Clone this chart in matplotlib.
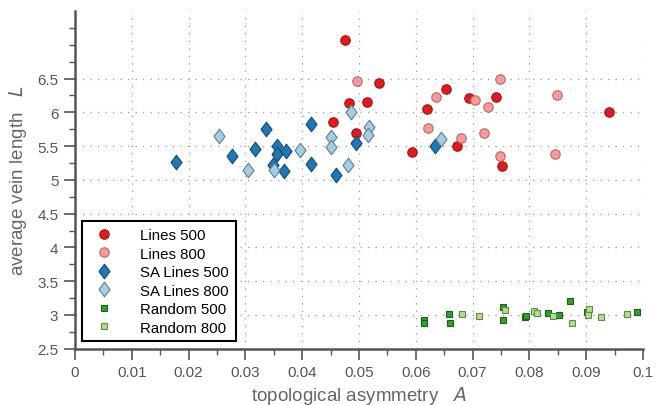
import numpy as np
import matplotlib
matplotlib.use("Agg")
import matplotlib.pyplot as plt
from matplotlib.ticker import MultipleLocator, FixedLocator, FuncFormatter

plt.rcParams['font.family'] = ['Liberation Sans', 'DejaVu Sans']

# topological asymmetry A / average vein length L for each network family
lines500_A = [0.0475, 0.0483, 0.0455, 0.0495, 0.0535, 0.0515, 0.0594, 0.0619, 0.0653,
              0.0694, 0.0742, 0.0673, 0.0752, 0.0941]
lines500_L = [7.07, 6.14, 5.85, 5.69, 6.44, 6.15, 5.41, 6.05, 6.34,
              6.21, 6.23, 5.50, 5.21, 6.01]

lines800_A = [0.0496, 0.0748, 0.0636, 0.0705, 0.0728, 0.0848, 0.0622, 0.0680, 0.0720,
              0.0748, 0.0845]
lines800_L = [6.47, 6.49, 6.23, 6.18, 6.08, 6.25, 5.77, 5.62, 5.69,
              5.35, 5.38]

sa500_A = [0.0178, 0.0277, 0.0317, 0.0337, 0.0356, 0.0356, 0.0371, 0.0348, 0.0368,
           0.0416, 0.0416, 0.0460, 0.0495, 0.0634]
sa500_L = [5.26, 5.36, 5.46, 5.76, 5.50, 5.38, 5.43, 5.22, 5.13,
           5.83, 5.23, 5.07, 5.55, 5.50]

sa800_A = [0.0253, 0.0304, 0.0350, 0.0397, 0.0451, 0.0451, 0.0480, 0.0486, 0.0517,
           0.0516, 0.0644]
sa800_L = [5.65, 5.15, 5.15, 5.44, 5.63, 5.48, 5.22, 6.01, 5.79,
           5.67, 5.61]

rand500_A = [0.0614, 0.0614, 0.0658, 0.0660, 0.0753, 0.0753, 0.0792, 0.0794, 0.0832,
             0.0852, 0.0871, 0.0901, 0.0990]
rand500_L = [2.93, 2.88, 3.01, 2.88, 3.12, 2.93, 2.97, 2.98, 3.03,
             3.00, 3.20, 3.05, 3.04]

rand800_A = [0.0682, 0.0712, 0.0758, 0.0809, 0.0814, 0.0841, 0.0875, 0.0905, 0.0903,
             0.0926, 0.0972]
rand800_L = [3.02, 2.98, 3.07, 3.06, 3.03, 2.98, 2.88, 3.09, 3.00,
             2.97, 3.01]

diamond = [(-0.38, 0), (0, 0.5), (0.38, 0), (0, -0.5), (-0.38, 0)]

series = [
    (lines500_A, lines500_L, "Lines 500", 'o', 6.8, '#e31a1c', '#9e1214'),
    (lines800_A, lines800_L, "Lines 800", 'o', 6.8, '#fb9a99', '#b06a6a'),
    (sa500_A, sa500_L, "SA Lines 500", diamond, 10.5, '#1f78b4', '#134d75'),
    (sa800_A, sa800_L, "SA Lines 800", diamond, 10.5, '#a6cee3', '#5f7f8e'),
    (rand500_A, rand500_L, "Random 500", 's', 5.0, '#33a02c', '#1b5e17'),
    (rand800_A, rand800_L, "Random 800", 's', 5.0, '#b2df8a', '#63894a'),
]

fig = plt.figure(figsize=(6.65, 4.06), dpi=100)
ax = fig.add_axes([0.1128, 0.1387, 0.854, 0.8317])

gray = '#555555'
for A, L, lab, m, ms, fc, ec in series:
    ax.plot(A, L, linestyle='none', marker=m, markersize=ms, markerfacecolor=fc,
            markeredgecolor=ec, markeredgewidth=0.8, label=lab, zorder=3)

ax.set_xlim(0, 0.1)
ax.set_ylim(2.5, 7.5)
ax.xaxis.set_major_locator(MultipleLocator(0.01))
ax.xaxis.set_minor_locator(MultipleLocator(0.005))
ax.yaxis.set_major_locator(FixedLocator(np.arange(2.5, 6.51, 0.5)))
ax.yaxis.set_minor_locator(FixedLocator(np.arange(2.75, 7.5, 0.25)))
ax.xaxis.set_major_formatter(FuncFormatter(lambda v, p: "%g" % round(v, 3)))
ax.yaxis.set_major_formatter(FuncFormatter(lambda v, p: "%g" % round(v, 2)))

ax.grid(True, which='major', color='#999999', linestyle=(0, (1, 5)), linewidth=0.9)
ax.set_axisbelow(True)

for s in ['top', 'right']:
    ax.spines[s].set_visible(False)
for s in ['left', 'bottom']:
    ax.spines[s].set_color(gray)
    ax.spines[s].set_linewidth(1.8)

ax.tick_params(which='major', direction='out', length=8, width=1.2, color=gray,
               labelcolor=gray, labelsize=11, pad=4)
ax.tick_params(which='minor', direction='out', length=4, width=1.0, color=gray)

ax.set_xlabel("topological asymmetry   $\\it{A}$", fontsize=13.5, color='#666666', labelpad=3)
ax.set_ylabel("average vein length   $\\it{L}$", fontsize=13.5, color='#666666', labelpad=6)

leg = ax.legend(loc='lower left', bbox_to_anchor=(0.013, 0.022), frameon=True,
                fancybox=False, fontsize=10.8, handletextpad=1.4, borderpad=0.45,
                labelspacing=0.3, handlelength=2.0, borderaxespad=0)
leg.get_frame().set_edgecolor('black')
leg.get_frame().set_linewidth(1.5)
leg.get_frame().set_alpha(1)

fig.savefig("out.png", dpi=100)
